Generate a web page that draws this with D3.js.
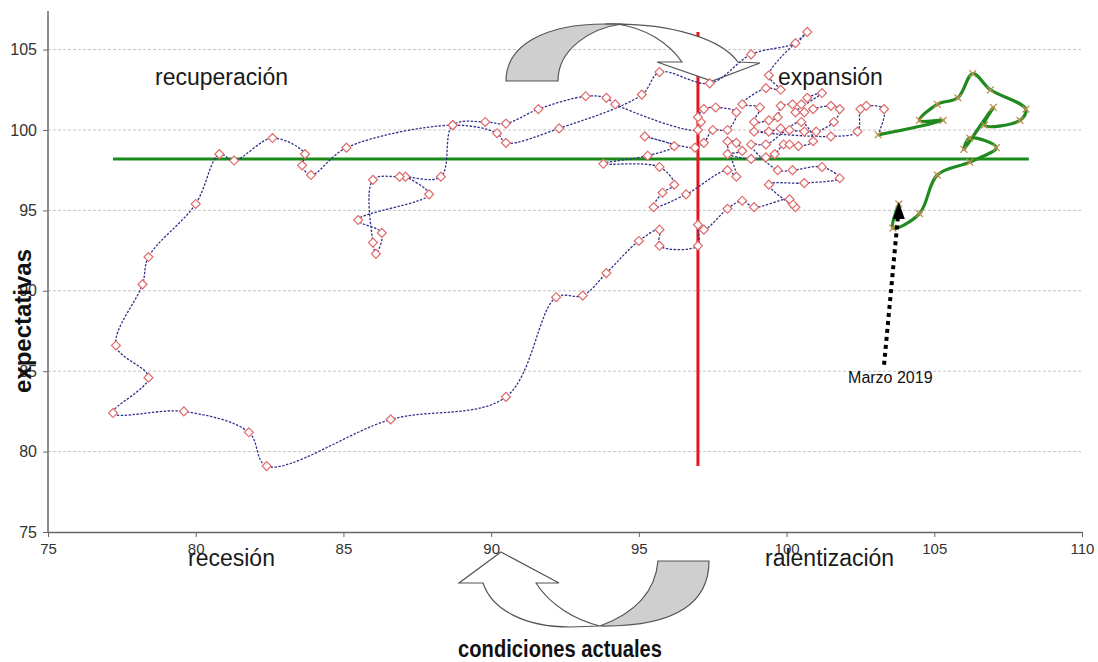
<!DOCTYPE html>
<html lang="es">
<head>
  <meta charset="utf-8">
  <title>Ciclo: condiciones actuales vs expectativas</title>
  <script src="https://d3js.org/d3.v7.min.js"></script>
  <style>
    body { margin: 0; background: #fff; font-family: Arial, "Liberation Sans", sans-serif; }
    svg { display: block; }
  </style>
</head>
<body>
<svg id="chart" width="1098" height="662"></svg>
<script>
// historical path (condiciones actuales, expectativas)
const condActual = [
  87.1, 87.9, 85.5, 86.3, 86.1, 86.0, 86.0, 86.9, 88.3, 88.7,
  89.8, 90.5, 91.6, 93.2, 93.9, 94.2,
  97.0, 97.1, 97.0, 97.2, 97.6, 98.3, 98.0, 97.5, 97.2, 96.9, 95.2, 96.2, 95.3, 93.8, 95.7, 96.2, 95.8, 95.5, 96.6,
  98.0, 98.3, 98.0, 98.3, 98.5, 98.0, 98.8, 99.3, 99.6, 99.9, 100.1, 100.4, 100.9, 100.5, 99.3, 98.8,
  99.7, 100.2, 101.2, 101.8, 100.6, 99.4, 100.3, 100.2, 100.1, 98.9, 98.5, 98.0, 97.2, 97.0, 97.0, 95.7, 95.7, 95.0,
  93.9, 93.1, 92.2, 90.5, 86.6, 82.4, 81.8, 79.6, 77.2, 78.4, 77.3, 78.2, 78.4, 80.0, 80.8, 81.3, 82.6, 83.7, 83.6, 83.9, 85.1, 88.7,
  90.2, 90.5, 92.3, 95.1, 95.7, 97.4, 98.8, 100.3, 100.7,
  99.4, 99.8, 99.3, 98.5, 99.1, 98.9, 99.4, 99.7, 99.8, 100.2, 100.5, 100.7, 101.2, 100.3, 100.6, 100.9, 101.5, 101.8,
  101.6, 101.0, 100.6, 100.1, 99.8, 99.4, 98.9, 101.5, 102.4, 102.5, 102.7, 103.3
];
const expectativas = [
  97.1, 96.0, 94.4, 93.6, 92.3, 93.0, 96.9, 97.1, 97.1, 100.3,
  100.5, 100.4, 101.3, 102.1, 102.0, 101.6,
  100.0, 100.5, 100.8, 101.3, 101.4, 101.1, 100.0, 100.0, 99.2, 98.9, 99.6, 99.0, 98.4, 97.9, 97.7, 96.6, 96.1, 95.2, 96.0,
  97.5, 97.1, 99.3, 99.2, 98.7, 98.5, 98.2, 98.3, 98.5, 99.1, 99.1, 99.0, 99.3, 100.5, 99.1, 99.1,
  97.5, 97.5, 97.7, 97.0, 96.7, 96.6, 95.2, 95.4, 95.7, 95.2, 95.6, 95.1, 93.8, 94.1, 92.8, 92.8, 93.8, 93.1,
  91.1, 89.7, 89.6, 83.4, 82.0, 79.1, 81.2, 82.5, 82.4, 84.6, 86.6, 90.4, 92.1, 95.4, 98.5, 98.1, 99.5, 98.5, 97.8, 97.2, 98.9, 100.3,
  99.8, 99.2, 100.1, 102.2, 103.6, 102.9, 104.7, 105.4, 106.1,
  103.4, 102.5, 102.6, 101.6, 101.4, 100.5, 100.6, 100.8, 101.5, 101.6, 101.6, 102.0, 102.3, 101.1, 101.1, 101.3, 101.5, 101.3,
  100.5, 99.9, 99.9, 100.0, 100.1, 99.9, 99.9, 99.6, 99.9, 101.3, 101.5, 101.3
];

// last months up to March 2019
const recentActual = [103.1, 105.3, 104.5, 105.1, 105.8, 106.3, 106.9, 108.1, 107.9, 106.7, 107.0, 106.0, 106.2, 107.1, 106.2, 105.1, 104.5, 103.6, 103.8];
const recentExpect = [99.7, 100.6, 100.6, 101.6, 102.0, 103.5, 102.5, 101.3, 100.6, 100.3, 101.4, 98.8, 99.5, 98.9, 98.0, 97.2, 94.8, 93.9, 95.4];

const xTicks = [75, 80, 85, 90, 95, 100, 105, 110];
const yTicks = [75, 80, 85, 90, 95, 100, 105];
const gridValues = [80, 85, 90, 95, 100, 105];

// reference lines
const avgActual = 97.0, avgActualRange = [79.1, 106.1];
const avgExpect = 98.2, avgExpectRange = [77.2, 108.2];

const svg = d3.select("#chart");
const x = d3.scaleLinear().domain([75, 110]).range([48, 1082]);
const y = d3.scaleLinear().domain([75, 107.4]).range([532, 11]);

// gridlines
svg.append("g")
  .selectAll("line")
  .data(gridValues)
  .join("line")
  .attr("x1", x(75)).attr("x2", x(110))
  .attr("y1", d => y(d)).attr("y2", d => y(d))
  .attr("stroke", "#c4c4c4")
  .attr("stroke-width", 1)
  .attr("stroke-dasharray", "3,2");

// axes
const xAxis = svg.append("g")
  .attr("transform", `translate(0,${y(75)})`)
  .call(d3.axisBottom(x).tickValues(xTicks).tickSize(5).tickSizeOuter(0).tickPadding(6));
const yAxis = svg.append("g")
  .attr("transform", `translate(${x(75)},0)`)
  .call(d3.axisLeft(y).tickValues(yTicks).tickSize(5).tickSizeOuter(0).tickPadding(6));
[xAxis, yAxis].forEach(a => {
  a.select(".domain").attr("stroke", "#666").attr("stroke-width", 1.5);
  a.selectAll(".tick line").attr("stroke", "#666");
  a.selectAll("text").attr("font-size", 15).attr("fill", "#333").attr("font-family", "Arial, Liberation Sans, sans-serif");
});
yAxis.selectAll("text").attr("font-size", 16);
yAxis.select(".domain").attr("d", `M0,${y(107.4)}V${y(75)}`);

// average lines
svg.append("line")
  .attr("x1", x(avgExpectRange[0])).attr("x2", x(avgExpectRange[1]))
  .attr("y1", y(avgExpect)).attr("y2", y(avgExpect))
  .attr("stroke", "#1a8a1a").attr("stroke-width", 3);
svg.append("line")
  .attr("x1", x(avgActual)).attr("x2", x(avgActual))
  .attr("y1", y(avgActualRange[0])).attr("y2", y(avgActualRange[1]))
  .attr("stroke", "#e8141c").attr("stroke-width", 3);

// curved block arrows (decoration)
const arrows = svg.append("g").attr("stroke", "#555").attr("stroke-width", 1.2);
arrows.append("path").attr("fill", "#cfcfcf")
  .attr("d", "M506,81 C506,45 545,24 605,24 L622,24 C592,28 558,48 558,81 Z");
arrows.append("path").attr("fill", "#fff")
  .attr("d", "M605,24 C675,23 722,40 738,62 L760,63 L712,81 L657,62 L682,62 C668,42 645,28 617,24 Z");
arrows.append("path").attr("fill", "#fff")
  .attr("d", "M483,583 C492,610 525,627 570,627 L600,626 C575,620 550,605 536,583 L559,583 L501,552 L459,583 Z");
arrows.append("path").attr("fill", "#cfcfcf")
  .attr("d", "M658,561 L709,561 C709,600 680,627 600,626 C630,615 655,595 658,561 Z");

// historical path
const hist = condActual.map((v, i) => [v, expectativas[i]]);
const recent = recentActual.map((v, i) => [v, recentExpect[i]]);
const line = d3.line().x(d => x(d[0])).y(d => y(d[1])).curve(d3.curveCatmullRom.alpha(0.5));

svg.append("path")
  .datum(hist.concat([recent[0]]))
  .attr("d", line)
  .attr("fill", "none")
  .attr("stroke", "#30308a")
  .attr("stroke-width", 1.3)
  .attr("stroke-dasharray", "2.4,1.5");

svg.append("g")
  .selectAll("path")
  .data(hist)
  .join("path")
  .attr("d", d3.symbol(d3.symbolSquare, 40))
  .attr("transform", d => `translate(${x(d[0])},${y(d[1])}) rotate(45)`)
  .attr("fill", "#fff")
  .attr("stroke", "#e06a6a")
  .attr("stroke-width", 1.2);

// recent path
svg.append("path")
  .datum(recent)
  .attr("d", line)
  .attr("fill", "none")
  .attr("stroke", "#1f8a1f")
  .attr("stroke-width", 3.2);

svg.append("g")
  .selectAll("path")
  .data(recent)
  .join("path")
  .attr("d", d3.symbol(d3.symbolX, 32))
  .attr("transform", d => `translate(${x(d[0])},${y(d[1])})`)
  .attr("fill", "none")
  .attr("stroke", "#c09050")
  .attr("stroke-width", 1.3);

// quadrant labels
const lab = svg.append("g").attr("fill", "#1a1a1a").attr("font-family", "Arial, Liberation Sans, sans-serif").attr("font-size", 23);
lab.append("text").attr("x", 155).attr("y", 85).text("recuperación");
lab.append("text").attr("x", 778).attr("y", 85).text("expansión");
lab.append("text").attr("x", 188).attr("y", 566).text("recesión");
lab.append("text").attr("x", 765).attr("y", 566).text("ralentización");

// axis titles
svg.append("text")
  .attr("transform", "translate(560,657) scale(0.84,1)")
  .attr("text-anchor", "middle")
  .attr("font-size", 24).attr("font-weight", "bold")
  .attr("fill", "#111")
  .text("condiciones actuales");
svg.append("text")
  .attr("transform", "translate(31,321) rotate(-90)")
  .attr("text-anchor", "middle")
  .attr("font-size", 24).attr("font-weight", "bold")
  .attr("fill", "#111")
  .text("expectativas");

// March 2019 annotation
const last = recent[recent.length - 1];
const noteFrom = [103.3, 85.4];
svg.append("line")
  .attr("x1", x(noteFrom[0])).attr("y1", y(noteFrom[1]))
  .attr("x2", x(last[0]) - 1).attr("y2", y(last[1]) + 14)
  .attr("stroke", "#000").attr("stroke-width", 4).attr("stroke-dasharray", "4,4");
const tx = x(last[0]), ty = y(last[1]);
svg.append("path")
  .attr("d", `M${tx},${ty - 2} L${tx - 6},${ty + 15} L${tx + 6},${ty + 15} Z`)
  .attr("fill", "#000");
svg.append("text")
  .attr("x", x(noteFrom[0]) - 36).attr("y", y(noteFrom[1]) + 18)
  .attr("font-size", 16).attr("fill", "#111")
  .text("Marzo 2019");
</script>
</body>
</html>
